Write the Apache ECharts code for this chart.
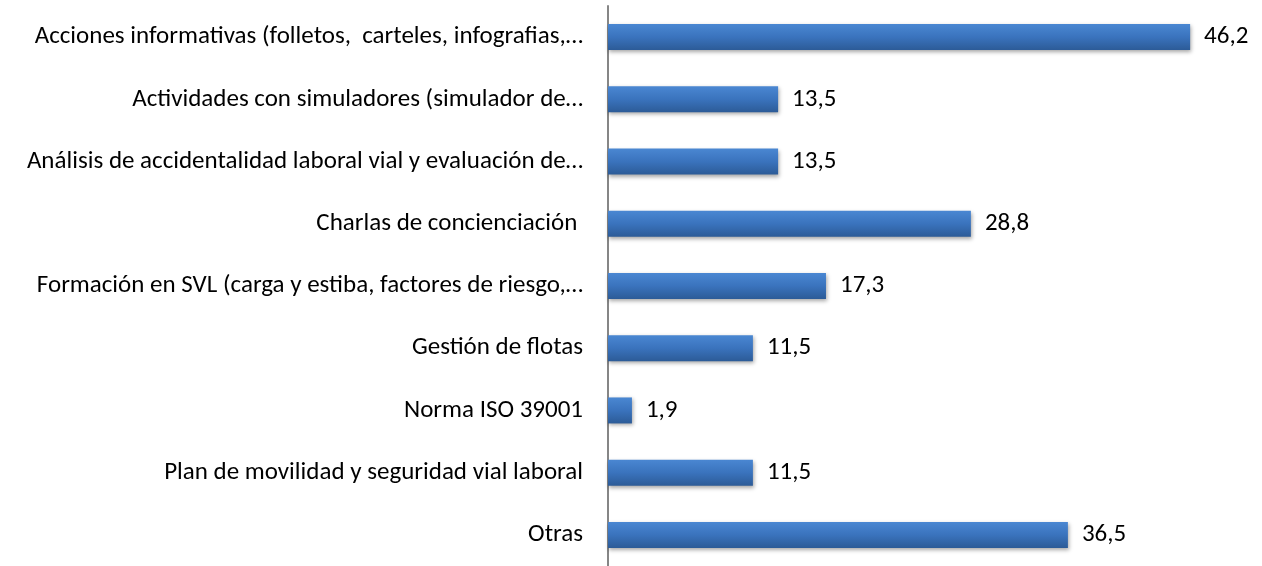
<!DOCTYPE html>
<html>
<head>
<meta charset="utf-8">
<script src="https://cdn.jsdelivr.net/npm/echarts@6/dist/echarts.min.js"></script>
<style>
html, body { margin: 0; padding: 0; background: #fff; }
#main { width: 1262px; height: 566px; }
</style>
</head>
<body>
<div id="main"></div>
<script>
// categories top to bottom
var categories = [
    'Acciones informativas (folletos,  carteles, infografias,…',
    'Actividades con simuladores (simulador de…',
    'Análisis de accidentalidad laboral vial y evaluación de…',
    'Charlas de concienciación ',
    'Formación en SVL (carga y estiba, factores de riesgo,…',
    'Gestión de flotas',
    'Norma ISO 39001',
    'Plan de movilidad y seguridad vial laboral',
    'Otras'
];
var values = [46.2, 13.5, 13.5, 28.8, 17.3, 11.5, 1.9, 11.5, 36.5];

var myChart = echarts.init(document.getElementById('main'));
var option = {
    animation: false,
    grid: { left: 608, top: 6, width: 630, height: 567 },
    xAxis: {
        type: 'value',
        min: 0,
        max: 50,
        show: false
    },
    yAxis: {
        type: 'category',
        inverse: true,
        data: categories,
        axisLine: { show: true, lineStyle: { color: '#868686', width: 2 } },
        axisTick: { show: false },
        axisLabel: {
            margin: 25,
            color: '#000',
            fontSize: 25,
            fontFamily: 'Carlito, "Open Sans"'
        }
    },
    series: [
        {
            type: 'bar',
            data: values,
            barWidth: 26,
            itemStyle: {
                color: new echarts.graphic.LinearGradient(0, 0, 0, 1, [
                    { offset: 0, color: '#4a87d2' },
                    { offset: 0.5, color: '#3a73bd' },
                    { offset: 1, color: '#2c5b97' }
                ]),
                shadowColor: 'rgba(0,0,0,0.35)',
                shadowBlur: 4,
                shadowOffsetX: 1,
                shadowOffsetY: 2
            },
            label: {
                show: true,
                position: 'right',
                distance: 14,
                color: '#000',
                fontSize: 25,
                fontFamily: 'Carlito, "Open Sans"',
                formatter: function (p) { return String(p.value).replace('.', ','); }
            }
        }
    ]
};
myChart.setOption(option);
</script>
</body>
</html>
